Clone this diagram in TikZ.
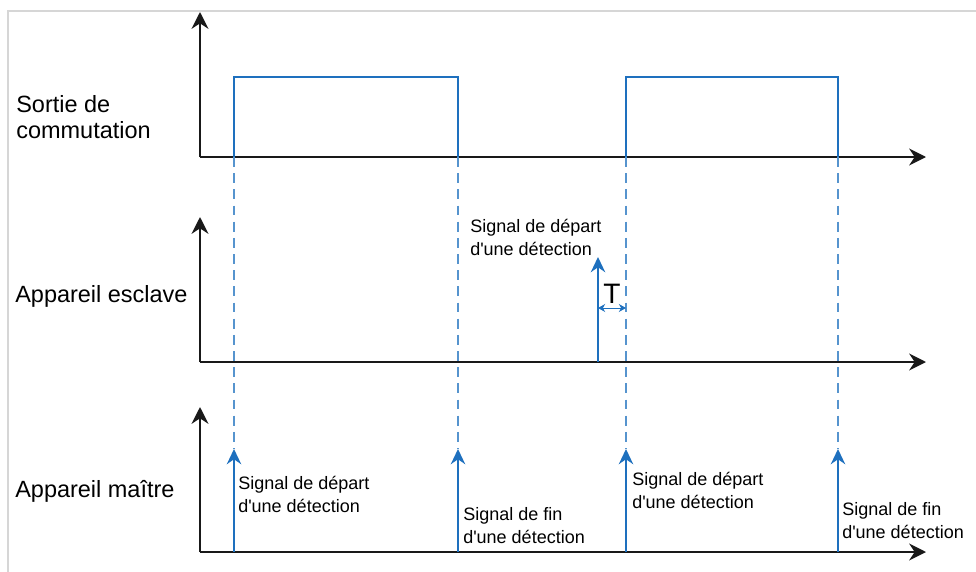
\documentclass[tikz,border=0pt]{standalone}
\usepackage{fontspec}
\setmainfont{Liberation Sans}
\usetikzlibrary{arrows.meta}
\definecolor{sigblue}{RGB}{30,112,190}
\definecolor{framegray}{RGB}{214,214,214}
\tikzset{
  axis/.style={-{Stealth[length=4.2mm,width=4.2mm]}, line width=1.6pt, black!90},
  pulse/.style={line width=1.1pt, sigblue},
  guide/.style={line width=0.8pt, sigblue!75, dash pattern=on 7pt off 4.5pt},
  sigarrow/.style={-{Stealth[length=3.8mm,width=3.6mm]}, line width=1.3pt, sigblue},
  rowlabel/.style={anchor=base west, align=left, font=\fontsize{16.7}{18.4}\selectfont, inner sep=0pt},
  siglabel/.style={anchor=north west, align=left, font=\fontsize{12.8}{16.3}\selectfont, inner sep=0pt}
}
\begin{document}
\begin{tikzpicture}[>=stealth, x=0.025cm, y=-0.025cm]
\useasboundingbox (0,0) rectangle (976,572);
\draw[framegray, line width=2pt] (8,576) -- (8,11) -- (980,11);

% axes
\coordinate (o1) at (200,157);
\coordinate (o2) at (200,362);
\coordinate (o3) at (200,552);
\coordinate (y1) at (200,12);
\coordinate (y2) at (200,217);
\coordinate (y3) at (200,407);
\coordinate (x1) at (926,157);
\coordinate (x2) at (926,362);
\coordinate (x3) at (926,552);
\draw[axis] (o1) -- (y1);
\draw[axis] (o1) -- (x1);
\draw[axis] (o2) -- (y2);
\draw[axis] (o2) -- (x2);
\draw[axis] (o3) -- (y3);
\draw[axis] (o3) -- (x3);

% switching output
\coordinate (a0) at (234,157);
\coordinate (a1) at (234,77);
\coordinate (b1) at (458,77);
\coordinate (b0) at (458,157);
\coordinate (c0) at (626,157);
\coordinate (c1) at (626,77);
\coordinate (d1) at (838,77);
\coordinate (d0) at (838,157);
\draw[pulse] (a0) -- (a1) -- (b1) -- (b0);
\draw[pulse] (c0) -- (c1) -- (d1) -- (d0);

% master signals
\coordinate (ma) at (234,552);
\coordinate (mb) at (458,552);
\coordinate (mc) at (626,552);
\coordinate (md) at (838,552);
\coordinate (ta) at (234,449);
\coordinate (tb) at (458,449);
\coordinate (tc) at (626,449);
\coordinate (td) at (838,449);
\draw[guide] (a0) -- (ta);
\draw[guide] (b0) -- (tb);
\draw[guide] (c0) -- (tc);
\draw[guide] (d0) -- (td);
\draw[sigarrow] (ma) -- (ta);
\draw[sigarrow] (mb) -- (tb);
\draw[sigarrow] (mc) -- (tc);
\draw[sigarrow] (md) -- (td);

% slave signal
\coordinate (sa) at (598,362);
\coordinate (st) at (598,257);
\draw[sigarrow] (sa) -- (st);
\coordinate (dl) at (598,308);
\coordinate (dr) at (626,308);
\draw[{Stealth[length=1.8mm,width=2mm]}-{Stealth[length=1.8mm,width=2mm]}, line width=0.7pt, sigblue] (dl) -- (dr);
\node[anchor=base, font=\fontsize{20}{22}\selectfont, inner sep=0pt] (tlabel) at (612,303) {T};

% labels
\node[rowlabel] (sortie) at (16,138) {Sortie de\\commutation};
\node[rowlabel] (esclave) at (15,302) {Appareil esclave};
\node[rowlabel] (maitre) at (15,497) {Appareil maître};
\node[siglabel] (sdep) at (470,219) {Signal de départ\\d\textquotesingle une détection};
\node[siglabel] (mdep1) at (238,476) {Signal de départ\\d\textquotesingle une détection};
\node[siglabel] (mfin1) at (463,507) {Signal de fin\\d\textquotesingle une détection};
\node[siglabel] (mdep2) at (632,472) {Signal de départ\\d\textquotesingle une détection};
\node[siglabel] (mfin2) at (842,502) {Signal de fin\\d\textquotesingle une détection};
\end{tikzpicture}
\end{document}
